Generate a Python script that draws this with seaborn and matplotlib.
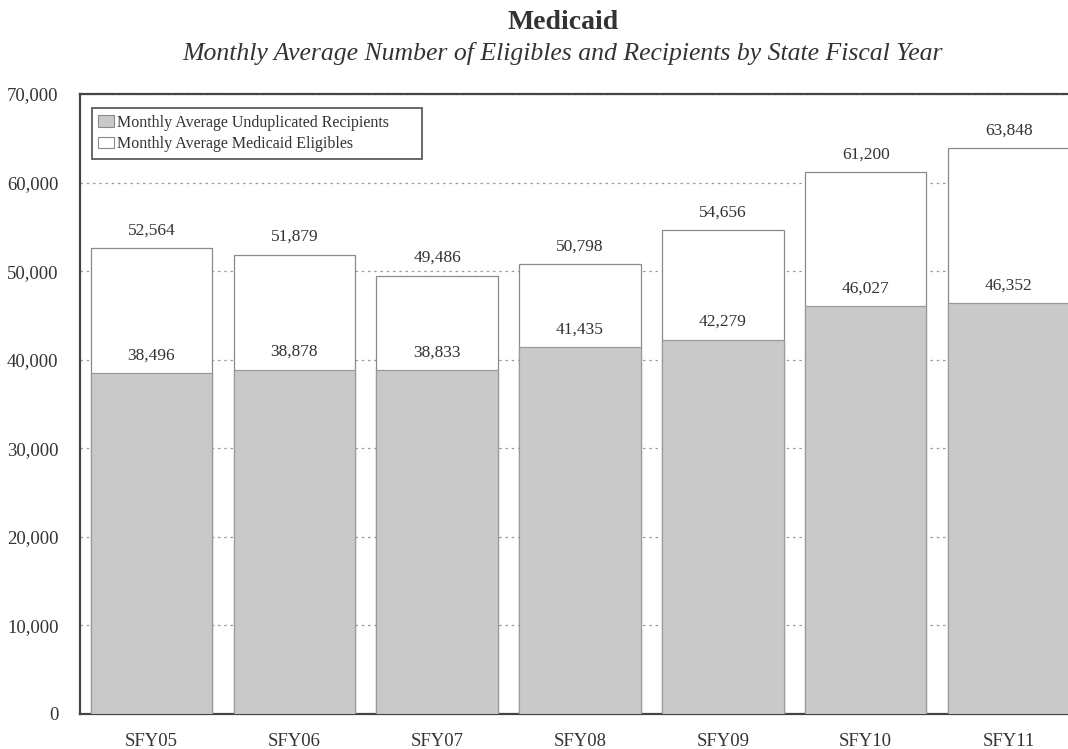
import matplotlib
matplotlib.use("Agg")
import matplotlib.pyplot as plt
from matplotlib.patches import Patch
import seaborn as sns
import pandas as pd

years = ["SFY05", "SFY06", "SFY07", "SFY08", "SFY09", "SFY10", "SFY11"]
eligibles = [52564, 51879, 49486, 50798, 54656, 61200, 63848]
recipients = [38496, 38878, 38833, 41435, 42279, 46027, 46352]

df = pd.DataFrame({"year": years, "eligibles": eligibles, "recipients": recipients})

sns.set_style("white")
plt.rcParams["font.family"] = ["Liberation Serif", "DejaVu Serif"]

fig = plt.figure(figsize=(10.68, 7.49), dpi=100)
ax = fig.add_axes([80 / 1068, 35 / 749, 1000 / 1068, 620 / 749])

txt = "#333333"
gray = "#c9c9c9"

sns.barplot(data=df, x="year", y="eligibles", color="white", edgecolor="#8a8a8a",
            linewidth=0.9, width=0.85, saturation=1, ax=ax, zorder=2)
sns.barplot(data=df, x="year", y="recipients", color=gray, edgecolor="#9a9a9a",
            linewidth=0.9, width=0.85, saturation=1, ax=ax, zorder=3)

ax.bar_label(ax.containers[0], labels=[f"{v:,}" for v in eligibles],
             padding=7, fontsize=12.5, color=txt)
ax.bar_label(ax.containers[1], labels=[f"{v:,}" for v in recipients],
             padding=7, fontsize=12.5, color=txt, zorder=4)

ax.set_ylim(0, 70000)
ax.set_xlim(-0.5, 6.5)
ax.set_yticks(range(0, 70001, 10000))
ax.set_yticklabels([f"{v:,}" for v in range(0, 70001, 10000)])
ax.yaxis.grid(True, linestyle=(0, (2, 3)), color="#9a9a9a", linewidth=0.9, zorder=0)
ax.set_axisbelow(True)
ax.set_xlabel("")
ax.set_ylabel("")
ax.tick_params(axis="both", length=0, labelsize=13.5, colors=txt)
ax.tick_params(axis="x", pad=14)
ax.tick_params(axis="y", pad=15.5)

for side in ["left", "top", "bottom"]:
    ax.spines[side].set_color("#444444")
    ax.spines[side].set_linewidth(1.6)
ax.spines["right"].set_visible(False)

handles = [Patch(facecolor=gray, edgecolor="#8a8a8a", linewidth=0.8),
           Patch(facecolor="white", edgecolor="#8a8a8a", linewidth=0.8)]
leg = ax.legend(handles, ["Monthly Average Unduplicated Recipients",
                          "Monthly Average Medicaid Eligibles"],
                loc="upper left", bbox_to_anchor=(0.012, 0.977, 0.33, 0), mode="expand",
                fontsize=11.5, frameon=True, fancybox=False, handlelength=1.0,
                handleheight=0.7, handletextpad=0.15, borderpad=0.4,
                labelspacing=0.35, borderaxespad=0)
leg.get_frame().set_edgecolor("#333333")
leg.get_frame().set_linewidth(1.3)
for t in leg.get_texts():
    t.set_color(txt)

fig.text(0.527, 0.986, "Medicaid", ha="center", va="top", fontsize=20,
         fontweight="bold", color=txt)
fig.text(0.527, 0.944, "Monthly Average Number of Eligibles and Recipients by State Fiscal Year",
         ha="center", va="top", fontsize=18.5, style="italic", color=txt)

fig.savefig("out.png", dpi=100)
plt.close(fig)
